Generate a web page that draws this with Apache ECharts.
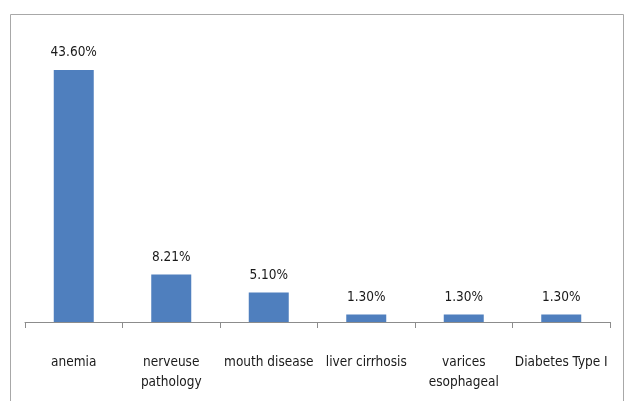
<!DOCTYPE html>
<html><head><meta charset="utf-8">
<script src="https://cdn.jsdelivr.net/npm/echarts@6/dist/echarts.min.js"></script>
<style>html,body{margin:0;padding:0;background:#fff}#c{width:624px;height:401px}</style>
</head><body><div id="c"></div>
<script>
const categories = ["anemia", "nerveuse\npathology", "mouth disease", "liver cirrhosis", "varices\nesophageal", "Diabetes Type I"];
const values = [43.6, 8.21, 5.10, 1.30, 1.30, 1.30];
const valueLabels = ["43.60%", "8.21%", "5.10%", "1.30%", "1.30%", "1.30%"];

const FONT = "'DejaVu Sans Condensed', 'Liberation Sans', sans-serif";
const chart = echarts.init(document.getElementById('c'), null, {renderer: 'canvas'});
chart.setOption({
  animation: false,
  backgroundColor: '#fff',
  graphic: [{
    type: 'rect', left: 8, top: 12, shape: {width: 613, height: 400},
    style: {fill: 'none', stroke: '#a8a8a8', lineWidth: 1}, silent: true
  }],
  grid: {left: 25, right: 14, top: 33, bottom: 79},
  xAxis: {
    type: 'category', data: categories,
    axisLine: {lineStyle: {color: '#8c8c8c', width: 1}},
    axisTick: {show: true, length: 6, lineStyle: {color: '#8c8c8c'}},
    axisLabel: {color: '#1a1a1a', fontSize: 13.5, fontFamily: FONT, margin: 30, lineHeight: 20, interval: 0}
  },
  yAxis: {type: 'value', min: 0, max: 50, show: false, splitLine: {show: false}},
  series: [{
    type: 'bar', data: values, barWidth: 40,
    itemStyle: {color: '#4f7fbe'},
    label: {
      show: true, position: 'top', distance: 10,
      color: '#1a1a1a', fontSize: 13.5, fontFamily: FONT,
      formatter: p => valueLabels[p.dataIndex]
    }
  }]
});
</script></body></html>
